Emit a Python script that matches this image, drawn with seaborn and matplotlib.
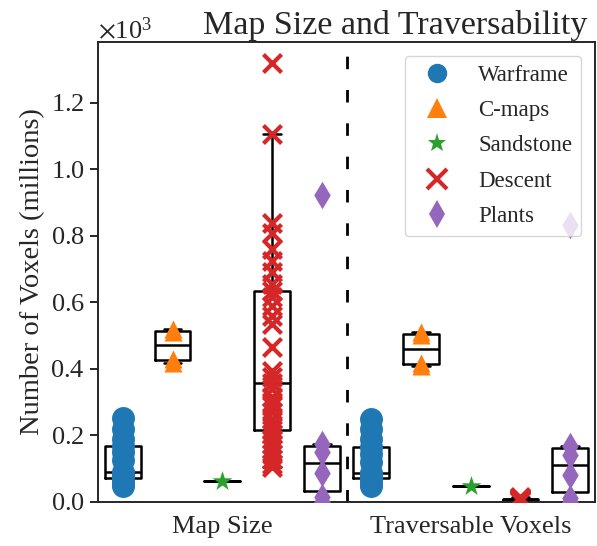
import pandas as pd
import matplotlib.pyplot as plt
import seaborn as sns
from matplotlib.lines import Line2D


groups = ['Map Size', 'Traversable Voxels']
datasets = ['Warframe', 'C-maps', 'Sandstone', 'Descent', 'Plants']
colors = ['#1f77b4', '#ff7f0e', '#2ca02c', '#d62728', '#9467bd']
markers = ['o', '^', '*', 'x', 'd']
sizes = [16.5, 13, 15, 13, 14]

# voxel counts (thousands of millions after the x10^3 offset)
warframe_map = [48, 55, 65, 73, 78, 84, 89, 125, 150, 168, 190, 220, 252]
warframe_trav = [47, 54, 63, 72, 77, 83, 88, 120, 145, 166, 188, 218, 250]
cmaps_map = [419, 430, 512, 519]
cmaps_trav = [409, 418, 503, 512]
sandstone_map = [64]
sandstone_trav = [49]
descent_map = [105, 115, 130, 145, 160, 175, 190, 205, 216, 232, 250, 270,
               290, 300, 315, 340, 358, 375, 395, 465, 535, 560, 590, 615,
               635, 655, 690, 725, 760, 810, 840, 1106, 1320]
descent_trav = [2, 4, 5, 6, 7, 8, 9, 10, 11, 12, 14]
plants_map = [1, 15, 87, 150, 174, 924]
plants_trav = [1, 13, 80, 142, 168, 833]

values = {
    ('Map Size', 'Warframe'): warframe_map,
    ('Map Size', 'C-maps'): cmaps_map,
    ('Map Size', 'Sandstone'): sandstone_map,
    ('Map Size', 'Descent'): descent_map,
    ('Map Size', 'Plants'): plants_map,
    ('Traversable Voxels', 'Warframe'): warframe_trav,
    ('Traversable Voxels', 'C-maps'): cmaps_trav,
    ('Traversable Voxels', 'Sandstone'): sandstone_trav,
    ('Traversable Voxels', 'Descent'): descent_trav,
    ('Traversable Voxels', 'Plants'): plants_trav,
}

rows = []
for (g, d), vals in values.items():
    for v in vals:
        rows.append({'group': g, 'dataset': d, 'slot': f'{g}|{d}', 'value': v})
df = pd.DataFrame(rows)
slots = [f'{g}|{d}' for g in groups for d in datasets]

sns.set_style('ticks')
plt.rcParams['font.family'] = 'serif'
plt.rcParams['font.serif'] = ['Liberation Serif', 'DejaVu Serif']
plt.rcParams['mathtext.fontset'] = 'stix'
plt.rcParams['font.size'] = 19
plt.rcParams['axes.linewidth'] = 1.4

fig = plt.figure(figsize=(5.97, 5.46), dpi=100)
ax = fig.add_axes([98 / 597, 44 / 546, 497 / 597, 460 / 546])

for name, col, mk, sz in zip(datasets, colors, markers, sizes):
    sub = df[df['dataset'] == name]
    if mk == 'x':
        sns.stripplot(data=sub, x='slot', y='value', order=slots, color=col,
                      marker=mk, size=sz, jitter=False, linewidth=3,
                      edgecolor=col, ax=ax)
    else:
        sns.stripplot(data=sub, x='slot', y='value', order=slots, color=col,
                      marker=mk, size=sz, jitter=False, linewidth=0, ax=ax)

sns.boxplot(data=df, x='slot', y='value', order=slots, color='black',
            fill=False, width=0.72, showfliers=False, linewidth=1.8, ax=ax)

ax.axvline(4.5, color='black', linestyle='--', linewidth=2, dashes=(4.5, 7.5))

ax.set_xlim(-0.5, 9.5)
ax.set_ylim(0, 1383)
ax.set_xticks([2, 7])
ax.set_xticklabels(groups)
ax.tick_params(axis='x', length=0, pad=10)
ax.tick_params(axis='y', length=6, width=1.4)
ax.ticklabel_format(axis='y', style='sci', scilimits=(3, 3), useMathText=True)
ax.set_xlabel('')
ax.set_ylabel('Number of Voxels (millions)', fontsize=20.5)
title = ax.set_title('Map Size and Traversability', fontsize=24.5)
title.set_x((395 - 98) / 497)
for s in ax.spines.values():
    s.set_visible(True)

handles = [Line2D([], [], marker=m, color=c, linestyle='', markersize=14,
                  markeredgewidth=3 if m == 'x' else 0, label=d)
           for d, c, m in zip(datasets, colors, markers)]
ax.legend(handles=handles, loc='upper right', fontsize=16.5, labelspacing=0.62,
          borderaxespad=0.6)

fig.savefig('out.png', dpi=100)
